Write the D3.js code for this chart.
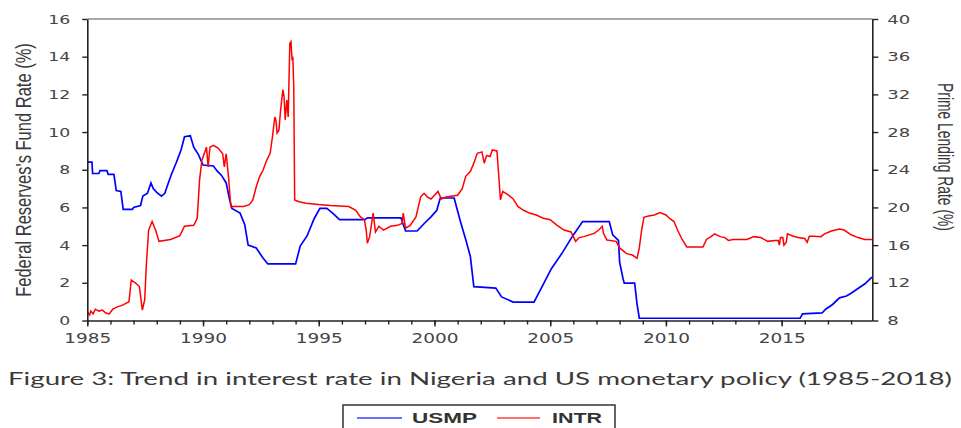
<!DOCTYPE html>
<html>
<head>
<meta charset="utf-8">
<script src="https://cdn.jsdelivr.net/npm/d3@7"></script>
<style>
  html, body { margin: 0; padding: 0; background: #fff; }
  svg { display: block; }
</style>
</head>
<body>
<svg id="chart" width="961" height="428"></svg>
<script>
// ---------------- DATA ----------------
// US monetary policy: Federal Reserve fund rate (%), left axis. [year, value]
const usmpSeries = [
  [1985.0,8.4],[1985.2,8.4],[1985.23,7.8],[1985.5,7.8],[1985.55,7.95],[1985.85,7.95],[1985.9,7.75],
  [1986.15,7.75],[1986.25,6.9],[1986.45,6.85],[1986.55,5.9],[1986.95,5.9],[1987.0,6.0],[1987.3,6.1],
  [1987.4,6.6],[1987.6,6.75],[1987.75,7.3],[1987.85,7.0],[1988.0,6.8],[1988.2,6.6],[1988.35,6.75],
  [1988.5,7.3],[1988.65,7.8],[1988.85,8.4],[1989.05,9.05],[1989.2,9.75],[1989.45,9.8],[1989.6,9.2],
  [1989.8,8.8],[1990.0,8.25],[1990.45,8.2],[1990.6,7.95],[1990.8,7.7],[1991.0,7.3],[1991.15,6.4],
  [1991.25,5.95],[1991.6,5.7],[1991.8,5.1],[1991.95,4.0],[1992.3,3.85],[1992.6,3.3],[1992.8,3.0],
  [1994.0,3.0],[1994.2,3.95],[1994.5,4.5],[1994.8,5.4],[1995.05,5.95],[1995.35,5.95],[1995.6,5.7],
  [1995.9,5.35],[1997.0,5.35],[1997.1,5.45],[1998.55,5.45],[1998.75,4.75],[1999.25,4.75],[1999.6,5.2],
  [1999.85,5.5],[2000.1,5.85],[2000.25,6.5],[2000.85,6.5],[2001.1,5.35],[2001.35,4.3],[2001.55,3.4],
  [2001.7,1.8],[2002.65,1.72],[2002.9,1.25],[2003.4,0.98],[2004.3,0.98],[2004.65,1.8],[2005.05,2.75],
  [2005.5,3.55],[2005.95,4.45],[2006.4,5.25],[2007.55,5.25],[2007.7,4.55],[2007.95,4.25],[2008.0,3.1],
  [2008.15,2.2],[2008.2,1.98],[2008.65,1.98],[2008.75,0.9],[2008.85,0.12],[2015.8,0.12],[2015.9,0.35],
  [2016.75,0.4],[2016.9,0.6],[2017.2,0.85],[2017.5,1.2],[2017.8,1.3],[2018.0,1.45],[2018.3,1.7],
  [2018.6,1.95],[2018.9,2.3]
];
// Nigeria prime lending rate (%), right axis. [year, value]
const intrSeries = [
  [1985.0,8.9],[1985.1,8.6],[1985.15,9.0],[1985.25,8.7],[1985.35,9.2],[1985.5,9.0],[1985.65,9.1],
  [1985.8,8.8],[1985.95,8.7],[1986.1,9.2],[1986.3,9.45],[1986.5,9.6],[1986.65,9.8],[1986.8,10.0],
  [1986.9,12.3],[1987.1,11.95],[1987.25,11.6],[1987.38,9.1],[1987.48,10.2],[1987.55,13.9],[1987.65,17.6],
  [1987.8,18.5],[1987.95,17.6],[1988.1,16.4],[1988.6,16.6],[1989.0,17.0],[1989.2,18.0],[1989.6,18.1],
  [1989.75,18.85],[1989.85,22.9],[1989.95,25.0],[1990.05,25.7],[1990.15,26.4],[1990.22,24.3],[1990.3,26.4],
  [1990.45,26.6],[1990.65,26.3],[1990.85,25.7],[1990.92,24.3],[1991.0,25.7],[1991.1,23.3],[1991.2,20.1],
  [1991.75,20.1],[1992.0,20.3],[1992.15,20.8],[1992.3,22.2],[1992.45,23.3],[1992.6,24.0],[1992.75,25.0],
  [1992.9,25.75],[1993.0,27.5],[1993.1,29.6],[1993.15,29.3],[1993.2,27.9],[1993.28,28.2],[1993.35,30.3],
  [1993.45,32.5],[1993.5,31.8],[1993.55,29.3],[1993.62,31.4],[1993.68,29.6],[1993.75,37.4],[1993.8,37.6],
  [1993.85,35.6],[1993.88,36.0],[1993.92,32.8],[1993.96,20.8],[1994.15,20.6],[1994.45,20.45],[1995.0,20.3],
  [1995.5,20.2],[1996.3,20.1],[1996.6,19.7],[1996.8,19.0],[1996.97,18.7],[1997.05,17.6],[1997.1,16.2],
  [1997.2,16.9],[1997.35,19.4],[1997.45,17.4],[1997.6,18.0],[1997.8,17.6],[1998.1,18.0],[1998.4,18.1],
  [1998.6,18.3],[1998.65,19.4],[1998.75,17.8],[1998.95,18.1],[1999.2,19.0],[1999.4,21.1],[1999.55,21.5],
  [1999.7,21.1],[1999.85,20.9],[2000.0,21.3],[2000.15,21.7],[2000.3,20.9],[2000.5,21.1],[2001.0,21.3],
  [2001.2,22.0],[2001.35,23.3],[2001.55,23.8],[2001.7,24.7],[2001.85,25.75],[2002.05,25.9],[2002.15,24.7],
  [2002.25,25.5],[2002.4,25.4],[2002.5,26.1],[2002.7,26.0],[2002.8,22.6],[2002.85,20.8],[2002.95,21.7],
  [2003.2,21.3],[2003.4,20.9],[2003.6,20.1],[2003.85,19.7],[2004.1,19.4],[2004.4,19.2],[2004.7,18.85],
  [2005.0,18.7],[2005.3,18.1],[2005.6,17.6],[2005.9,17.4],[2006.1,16.4],[2006.25,16.8],[2006.45,16.9],
  [2006.9,17.25],[2007.1,17.6],[2007.25,18.0],[2007.3,17.25],[2007.45,16.55],[2007.85,16.4],[2008.0,15.7],
  [2008.3,15.1],[2008.55,14.95],[2008.75,14.6],[2008.85,15.7],[2008.95,17.6],[2009.05,18.95],[2009.25,19.1],
  [2009.5,19.2],[2009.75,19.45],[2010.0,19.2],[2010.2,18.75],[2010.35,18.5],[2010.5,17.6],[2010.7,16.6],
  [2010.9,15.8],[2011.6,15.8],[2011.75,16.6],[2011.95,16.9],[2012.1,17.2],[2012.35,16.9],[2012.55,16.8],
  [2012.7,16.5],[2012.9,16.6],[2013.5,16.6],[2013.8,16.9],[2014.1,16.8],[2014.4,16.4],[2014.7,16.5],
  [2014.85,16.5],[2014.9,16.0],[2014.95,16.8],[2015.05,16.8],[2015.1,16.0],[2015.2,16.3],[2015.25,17.2],
  [2015.45,17.0],[2015.7,16.8],[2016.0,16.7],[2016.1,16.3],[2016.2,16.95],[2016.4,16.95],[2016.7,16.9],
  [2016.85,17.2],[2017.15,17.5],[2017.5,17.7],[2017.7,17.6],[2018.0,17.1],[2018.3,16.8],[2018.6,16.6],
  [2018.9,16.6]
];
const xMajorTicks = [1985, 1990, 1995, 2000, 2005, 2010, 2015];
const xMinorTicks = d3.range(1985, 2019);
const leftTicks = [0, 2, 4, 6, 8, 10, 12, 14, 16];
const rightTicks = [8, 12, 16, 20, 24, 28, 32, 36, 40];
const leftTitle = "Federal Reserves's Fund Rate (%)";
const rightTitle = "Prime Lending Rate (%)";
const caption = "Figure 3: Trend in interest rate in Nigeria and US monetary policy (1985-2018)";
const legendItems = [{name: "USMP", color: "#0000ff"}, {name: "INTR", color: "#ff0000"}];

// ---------------- LAYOUT ----------------
const svg = d3.select("#chart");
const L = 87.3, R = 872.3, T = 19, B = 320.5;
const axisColor = "#222";
const labelColor = "#454545";

const x = d3.scaleLinear().domain([1985, 1985 + 407 / 12]).range([L, R]);
const yL = d3.scaleLinear().domain([0, 16]).range([B, T]);
const yR = d3.scaleLinear().domain([8, 40]).range([B, T]);

// series lines
const lineL = d3.line().x(d => x(d[0])).y(d => yL(d[1]));
const lineR = d3.line().x(d => x(d[0])).y(d => yR(d[1]));

svg.append("path").datum(usmpSeries).attr("d", lineL)
  .attr("fill", "none").attr("stroke", "#0000ff").attr("stroke-width", 1.7)
  .attr("stroke-linejoin", "miter");
svg.append("path").datum(intrSeries).attr("d", lineR)
  .attr("fill", "none").attr("stroke", "#ff0000").attr("stroke-width", 1.5)
  .attr("stroke-linejoin", "miter");

// frame: top border
svg.append("line").attr("x1", L).attr("x2", R).attr("y1", T).attr("y2", T)
  .attr("stroke", "#555").attr("stroke-width", 1.2);

function styleAxis(g) {
  g.select(".domain").attr("stroke", axisColor).attr("stroke-width", 1.6);
  g.selectAll(".tick line").attr("stroke", axisColor).attr("stroke-width", 1.4);
  g.selectAll(".tick text").attr("fill", labelColor)
    .style("font-family", "'DejaVu Sans', Verdana, sans-serif").style("font-size", "13px");
}

// left axis
const gL = svg.append("g").attr("transform", `translate(${L},0)`)
  .call(d3.axisLeft(yL).tickValues(leftTicks).tickSize(5).tickSizeOuter(0).tickPadding(12));
styleAxis(gL);
gL.selectAll(".tick text").attr("textLength", d => String(d).length * 11).attr("lengthAdjust", "spacingAndGlyphs");

// right axis
const gR = svg.append("g").attr("transform", `translate(${R},0)`)
  .call(d3.axisRight(yR).tickValues(rightTicks).tickSize(6).tickSizeOuter(0).tickPadding(9));
styleAxis(gR);
gR.selectAll(".tick text").attr("textLength", d => String(d).length * 11.5).attr("lengthAdjust", "spacingAndGlyphs");

// bottom axis (minor ticks)
const gBm = svg.append("g").attr("transform", `translate(0,${B})`)
  .call(d3.axisBottom(x).tickValues(xMinorTicks).tickSize(4).tickSizeOuter(0).tickFormat(""));
styleAxis(gBm);
gBm.select(".domain").attr("d", `M${L},0.5H${R}`);
// bottom axis (major ticks + labels)
const gB = svg.append("g").attr("transform", `translate(0,${B})`)
  .call(d3.axisBottom(x).tickValues(xMajorTicks).tickSize(6).tickSizeOuter(0).tickFormat(d3.format("d")).tickPadding(7));
styleAxis(gB);
gB.select(".domain").remove();
gB.selectAll(".tick text").attr("textLength", 47).attr("lengthAdjust", "spacingAndGlyphs")
  .style("font-size", "14px");

// axis titles: fit to the reference length with a horizontal scale (in text space)
function fittedTitle(txt, cx, cy, angle, targetLen, size) {
  const g = svg.append("g").attr("transform", `translate(${cx},${cy}) rotate(${angle})`);
  const t = g.append("text")
    .attr("text-anchor", "middle")
    .style("font-family", "'Liberation Sans', Arial, sans-serif").style("font-size", size + "px")
    .attr("fill", "#3a3a3a")
    .text(txt);
  const len = t.node().getComputedTextLength();
  t.attr("transform", `scale(${targetLen / len},1)`);
  return t;
}
fittedTitle(leftTitle, 31, 170, -90, 254, 22);
fittedTitle(rightTitle, 938, 157, 90, 148, 22);

// caption
svg.append("text")
  .attr("x", 8).attr("y", 385)
  .attr("textLength", 944).attr("lengthAdjust", "spacingAndGlyphs")
  .style("font-family", "'Lato', 'DejaVu Sans', sans-serif").style("font-size", "18px")
  .attr("fill", "#3a3a3a")
  .text(caption);

// legend
const lg = svg.append("g");
lg.append("rect").attr("x", 343).attr("y", 405).attr("width", 272).attr("height", 40)
  .attr("fill", "#fff").attr("stroke", "#333").attr("stroke-width", 1.5);
const legX = [[357, 402, 412, 65], [497, 540, 552, 50]];
legendItems.forEach((it, i) => {
  const p = legX[i];
  lg.append("line").attr("x1", p[0]).attr("x2", p[1]).attr("y1", 418).attr("y2", 418)
    .attr("stroke", it.color).attr("stroke-width", 1.5).attr("opacity", 0.75);
  lg.append("text").attr("x", p[2]).attr("y", 423)
    .attr("textLength", p[3]).attr("lengthAdjust", "spacingAndGlyphs")
    .style("font-family", "'Liberation Sans', Arial, sans-serif").style("font-size", "15px")
    .style("font-weight", "bold").attr("fill", "#333")
    .text(it.name);
});
</script>
</body>
</html>
